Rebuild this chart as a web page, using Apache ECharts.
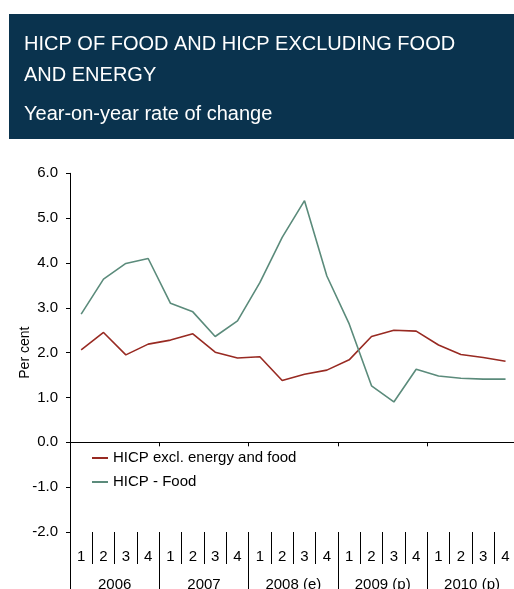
<!DOCTYPE html>
<html>
<head>
<meta charset="utf-8">
<script src="https://cdn.jsdelivr.net/npm/echarts@6/dist/echarts.min.js"></script>
<style>
  html, body { margin: 0; padding: 0; background: #ffffff; }
  #chart { width: 514px; height: 589px; }
</style>
</head>
<body>
<div id="chart"></div>
<script>
// Quarter and year categories
const quarters = ['1','2','3','4','1','2','3','4','1','2','3','4','1','2','3','4','1','2','3','4'];
const years = ['2006', '2007', '2008 (e)', '2009 (p)', '2010 (p)'];

// Year-on-year rates of change, per cent
const coreInflation = [2.06, 2.45, 1.95, 2.19, 2.28, 2.42, 2.01, 1.88, 1.91, 1.38,
                       1.52, 1.61, 1.84, 2.36, 2.50, 2.48, 2.17, 1.96, 1.89, 1.81];
const foodInflation = [2.86, 3.64, 3.99, 4.10, 3.10, 2.91, 2.36, 2.71, 3.56, 4.57,
                       5.39, 3.71, 2.64, 1.26, 0.90, 1.63, 1.48, 1.43, 1.41, 1.41];

// Value axis settings
const yMin = -2, yMax = 6, yStep = 1;

const FONT = '"Liberation Sans", Arial, sans-serif';
const RED = '#982a22';
const GREEN = '#5b8b7b';

const chart = echarts.init(document.getElementById('chart'), null, { renderer: 'canvas' });

chart.setOption({
  animation: false,
  backgroundColor: '#ffffff',
  textStyle: { fontFamily: FONT },
  graphic: [
    { type: 'rect', shape: { x: 9, y: 14, width: 505, height: 125 }, style: { fill: '#0a334e' }, silent: true },
    { type: 'text', x: 24, y: 44.5, style: { text: 'HICP OF FOOD AND HICP EXCLUDING FOOD', fill: '#ffffff', font: '20px ' + FONT, textVerticalAlign: 'middle' } },
    { type: 'text', x: 24, y: 75, style: { text: 'AND ENERGY', fill: '#ffffff', font: '20px ' + FONT, textVerticalAlign: 'middle' } },
    { type: 'text', x: 24, y: 114, style: { text: 'Year-on-year rate of change', fill: '#ffffff', font: '20px ' + FONT, textVerticalAlign: 'middle' } }
  ],
  legend: {
    orient: 'vertical',
    left: 87,
    top: 445,
    itemWidth: 16,
    itemHeight: 2,
    itemGap: 8,
    icon: 'rect',
    textStyle: { fontFamily: FONT, fontSize: 15, color: '#000000', lineHeight: 16 },
    data: ['HICP excl. energy and food', 'HICP - Food']
  },
  grid: { left: 70, top: 173.3, width: 446.7, height: 358.7, containLabel: false, outerBoundsMode: 'none' },
  xAxis: [
    {
      // quarters, drawn below the plot
      type: 'category',
      data: quarters,
      position: 'bottom',
      boundaryGap: true,
      axisLine: { show: false, onZero: false },
      axisTick: { show: true, interval: 0, length: 32, lineStyle: { color: '#000', width: 1 } },
      axisLabel: { interval: 0, margin: 17.5, fontSize: 15, color: '#000', fontFamily: FONT },
      splitLine: { show: false }
    },
    {
      // years, with longer separators
      type: 'category',
      data: years,
      position: 'bottom',
      boundaryGap: true,
      axisLine: { show: false, onZero: false },
      axisTick: { show: true, interval: 0, length: 60, lineStyle: { color: '#000', width: 1 } },
      axisLabel: { interval: 0, margin: 45, fontSize: 15, color: '#000', fontFamily: FONT },
      splitLine: { show: false }
    },
    {
      // zero line with year ticks
      type: 'category',
      data: years,
      position: 'bottom',
      boundaryGap: true,
      axisLine: { show: true, onZero: true, onZeroAxisIndex: 0, lineStyle: { color: '#000', width: 1 } },
      axisTick: { show: true, interval: 0, length: 4, lineStyle: { color: '#000', width: 1 } },
      axisLabel: { show: false },
      splitLine: { show: false }
    }
  ],
  yAxis: {
    type: 'value',
    min: yMin,
    max: yMax,
    interval: yStep,
    name: 'Per cent',
    nameLocation: 'middle',
    nameGap: 38,
    nameMoveOverlap: false,
    nameTextStyle: { fontSize: 14, color: '#000', fontFamily: FONT },
    axisLine: { show: true, onZero: false, lineStyle: { color: '#000', width: 1 } },
    axisTick: { show: true, length: 4, lineStyle: { color: '#000', width: 1 } },
    axisLabel: { margin: 12, fontSize: 15, color: '#000', fontFamily: FONT, formatter: v => v.toFixed(1) },
    splitLine: { show: false }
  },
  series: [
    {
      name: 'HICP excl. energy and food',
      type: 'line',
      xAxisIndex: 0,
      data: coreInflation,
      symbol: 'none',
      lineStyle: { color: RED, width: 1.6 },
      itemStyle: { color: RED }
    },
    {
      name: 'HICP - Food',
      type: 'line',
      xAxisIndex: 0,
      data: foodInflation,
      symbol: 'none',
      lineStyle: { color: GREEN, width: 1.6 },
      itemStyle: { color: GREEN }
    }
  ]
});
</script>
</body>
</html>
